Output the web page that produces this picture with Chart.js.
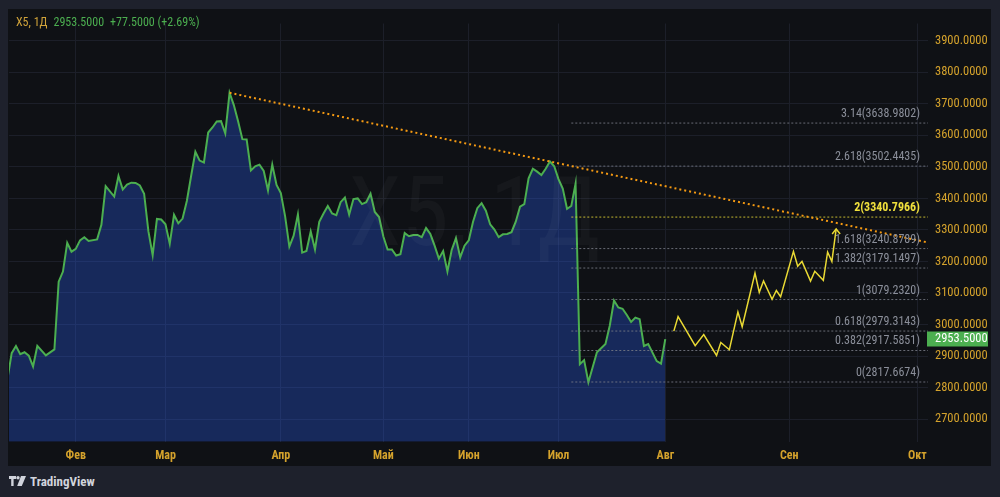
<!DOCTYPE html>
<html><head><meta charset="utf-8">
<script src="https://cdn.jsdelivr.net/npm/chart.js@4.4.1/dist/chart.umd.min.js"></script>
<style>
html,body{margin:0;padding:0;background:#1e212c;width:1000px;height:497px;overflow:hidden;font-family:'Liberation Sans Narrow','Roboto Condensed',Roboto,sans-serif;}
#panel{position:absolute;left:8px;top:9px;width:983px;height:457px;background:#0f1115;}
#chart{position:absolute;left:0;top:0;}
#hdr{position:absolute;left:16px;top:15px;font-size:12px;line-height:14px;white-space:nowrap;color:#4caf50;z-index:2}
#hdr span{margin-right:6px}
#hdr .sym{color:#d0a33a}
#logo{position:absolute;left:9px;top:474px;height:14px;display:flex;align-items:center;color:#d1d4dc;font-size:13px;font-weight:bold}
#logo svg{margin-right:4px}
</style></head>
<body>
<div id="panel"><canvas id="chart" width="983" height="457"></canvas></div>
<div id="hdr"><span class="sym">X5, 1Д</span><span id="hLast"></span><span id="hChg"></span></div>
<div id="logo"><svg width="17" height="10" viewBox="0 0 17 10"><path d="M0 0h7v3H4.6v7H2.2V3H0z" fill="#d1d4dc"/><circle cx="9" cy="1.7" r="1.7" fill="#d1d4dc"/><path d="M12 0h5l-4.2 10H8.2z" fill="#d1d4dc"/></svg><span>TradingView</span></div>
<script>
// ---- data ----
const barIndex = [-1,0,1,2,3,4,5,6,8,10,11,12,13,14,15,16,17,18,20,21,22,24,25,26,27,28,29,30,31,32,33,34,35,36,37,38,39,40,41,42,43,44,45,46,47,48,49,50,51,52,53,54,55,56,57,58,59,60,61,62,63,64,65,66,67,68,69,70,71,72,73,74,75,76,77,78,79,80,81,82,83,84,85,86,87,88,89,90,91,92,93,94,95,96,97,98,99,100,101,102,103,104,105,106,107,108,109,110,111,112,113,114,115,116,117,118,119,120,121,122,123,124,125,126,127,128,129,130,131,132,133,134,135,137,139,140,141,142,143,144,145,146,147,148,149,151,152,153];
const closePrice = [2827,2909,2932,2906,2912,2901,2867,2932,2902,2921,3136,3168,3259,3231,3240,3267,3277,3265,3270,3316,3439,3406,3471,3428,3444,3450,3449,3441,3415,3296,3220,3335,3333,3318,3256,3348,3321,3336,3392,3471,3548,3520,3514,3609,3625,3644,3645,3606,3735,3696,3645,3588,3587,3489,3502,3507,3487,3425,3507,3443,3417,3344,3247,3282,3349,3228,3233,3295,3238,3326,3352,3376,3352,3347,3388,3403,3349,3398,3400,3382,3388,3415,3357,3341,3279,3238,3238,3219,3223,3290,3280,3284,3284,3277,3306,3287,3250,3209,3233,3168,3236,3274,3213,3250,3267,3326,3369,3385,3361,3318,3301,3277,3286,3287,3293,3326,3374,3382,3464,3494,3485,3474,3494,3517,3502,3461,3431,3367,3376,3447,2874,2887,2817,2912,2938,2996,3076,3054,3050,3030,3008,3022,3017,2932,2938,2884,2876,2953.5];
const projIndex = [155,156,160,162,165,166,168,170,171,174,175,176,178,179,180,183,184,185,187,188,190,191,192,193];
const projPrice = [2979,3025,2933,2968,2902,2943,2920,3040,2993,3163,3102,3138,3080,3108,3088,3232,3185,3200,3138,3169,3140,3230,3200,3303];
const trendIndex = [51, 214.5];
const trendPrice = [3735, 3260];
const fibRatio = ['3.14','2.618','2','1.618','1.382','1','0.618','0.382','0'];
const fibPrice = [3638.9802,3502.4435,3340.7966,3240.8789,3179.1497,3079.2320,2979.3143,2917.5851,2817.6674];
const fibStart = 131;
const monthPos = [15,36,63,87,107,128,153,182,212];
const monthLabels = ['Фев','Мар','Апр','Май','Июн','Июл','Авг','Сен','Окт'];
const priceTicks = [2700,2800,2900,3000,3100,3200,3300,3400,3500,3600,3700,3800,3900];
const watermarkText = 'X5, 1Д';

const X_MIN = -0.63, X_MAX = 214.5, Y_MIN = 2628.3, Y_MAX = 3954.8;
const FONT = "'Liberation Sans Narrow','Roboto Condensed',Roboto,sans-serif";
const GOLD = '#d4a22c', GREEN = '#4caf50', YEL = '#e9d934';

// header
const last = closePrice[closePrice.length-1], prev = closePrice[closePrice.length-2];
const chg = last - prev;
document.getElementById('hLast').textContent = last.toFixed(4);
document.getElementById('hChg').textContent = (chg>=0?'+':'') + chg.toFixed(4) + ' (' + (chg>=0?'+':'') + (chg/prev*100).toFixed(2) + '%)';

const datasets = [];
datasets.push({
  data: barIndex.map((x,i)=>({x, y: closePrice[i]})),
  borderColor: GREEN, borderWidth: 2, pointRadius: 0, tension: 0,
  fill: 'start', backgroundColor: 'rgba(44,98,255,0.30)', order: 10
});
fibRatio.forEach((r,i)=>{
  datasets.push({
    data: [{x: fibStart, y: fibPrice[i]}, {x: X_MAX, y: fibPrice[i]}],
    borderColor: r==='2' ? 'rgba(214,200,50,0.9)' : 'rgba(120,123,134,0.85)',
    borderWidth: 1, borderDash: [2,2], pointRadius: 0, fill: false, order: 5
  });
});
datasets.push({
  data: trendIndex.map((x,i)=>({x, y: trendPrice[i]})),
  borderColor: '#f59a12', borderWidth: 2, borderDash: [2,3], pointRadius: 0, fill: false, order: 3
});
datasets.push({
  data: projIndex.map((x,i)=>({x, y: projPrice[i]})),
  borderColor: YEL, borderWidth: 1.5, pointRadius: 0, fill: false, tension: 0, order: 1
});
const projDs = datasets.length - 1;

const overlay = {
  id: 'overlay',
  afterDatasetsDraw(chart){
    const {ctx, chartArea: a, scales:{x, y}} = chart;
    ctx.save();
    ctx.beginPath(); ctx.rect(a.left, a.top, a.right-a.left, a.bottom-a.top); ctx.clip();
    // watermark
    ctx.fillStyle = 'rgba(255,255,255,0.03)';
    ctx.font = '96px ' + FONT;
    ctx.textAlign = 'center'; ctx.textBaseline = 'middle';
    ctx.fillText(watermarkText, (a.left+a.right)/2 + 6, (a.top+a.bottom)/2 - 12);
    // fib labels
    ctx.textAlign = 'right'; ctx.textBaseline = 'middle';
    fibRatio.forEach((r,i)=>{
      const py = y.getPixelForValue(fibPrice[i]);
      const txt = r + '(' + fibPrice[i].toFixed(4) + ')';
      if (r==='2'){ ctx.font = 'bold 12px ' + FONT; ctx.fillStyle = '#f0e03c'; }
      else { ctx.font = '12px ' + FONT; ctx.fillStyle = '#8b8f9a'; }
      ctx.fillText(txt, a.right - 8, py - 9);
    });
    // arrow head on projection
    const m = chart.getDatasetMeta(projDs).data;
    const p = m[m.length-1];
    ctx.strokeStyle = YEL; ctx.lineWidth = 1.5;
    ctx.beginPath(); ctx.moveTo(p.x-4, p.y+5); ctx.lineTo(p.x, p.y); ctx.lineTo(p.x+4, p.y+5); ctx.stroke();
    ctx.restore();
  },
  afterDraw(chart){
    const {ctx, chartArea: a, scales:{y}} = chart;
    const py = y.getPixelForValue(last);
    ctx.save();
    ctx.fillStyle = GREEN;
    ctx.fillRect(a.right - 1, Math.round(py) - 7.5, 61, 15);
    ctx.fillStyle = '#ffffff';
    ctx.font = '12.5px ' + FONT;
    ctx.textAlign = 'left'; ctx.textBaseline = 'middle';
    ctx.fillText(last.toFixed(4), a.right + 7, py);
    ctx.restore();
  }
};

Chart.defaults.font.family = FONT;
new Chart(document.getElementById('chart'), {
  type: 'line',
  data: { datasets },
  options: {
    responsive: false, animation: false, devicePixelRatio: 1,
    layout: { padding: { left: 1, top: 0, right: 0, bottom: 0 } },
    plugins: { legend: { display: false }, tooltip: { enabled: false } },
    scales: {
      x: {
        type: 'linear', position: 'bottom', min: X_MIN, max: X_MAX,
        afterBuildTicks: s => { s.ticks = monthPos.map(v => ({ value: v })); },
        afterFit: s => { s.height = 24.3; },
        grid: { color: '#1c1f29', drawTicks: false },
        border: { display: false },
        ticks: { autoSkip: false, maxRotation: 0, padding: 7, color: GOLD,
          font: { size: 12, weight: 'bold' },
          callback: (v, i) => monthLabels[i] }
      },
      y: {
        type: 'linear', position: 'right', min: Y_MIN, max: Y_MAX,
        afterBuildTicks: s => { s.ticks = priceTicks.map(v => ({ value: v })); },
        afterFit: s => { s.width = 63; },
        grid: { color: '#1c1f29', drawTicks: false },
        border: { display: false },
        ticks: { autoSkip: false, padding: 7, color: GOLD, font: { size: 12.5 },
          callback: v => Number(v).toFixed(4) }
      }
    }
  },
  plugins: [overlay]
});
</script>
</body></html>
